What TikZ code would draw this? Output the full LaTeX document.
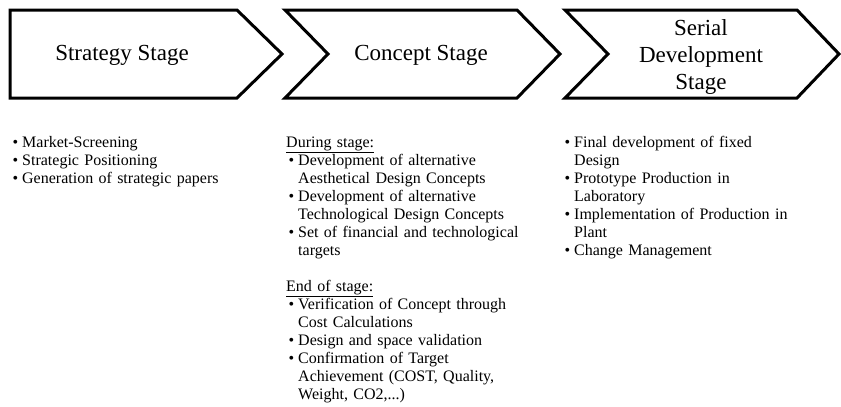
\documentclass[tikz,border=0pt]{standalone}
\usepackage{fontspec}
\setmainfont{Liberation Serif}
\newcommand{\bul}{\leavevmode\llap{\textbullet\hspace{4pt}}}
\begin{document}
\begin{tikzpicture}[x=1pt,y=-1pt,
  chev/.style={draw=black,line width=3pt,line join=miter,fill=white},
  title/.style={font=\fontsize{23}{27}\selectfont,align=center,inner sep=0pt},
  col/.style={font=\fontsize{16}{18}\selectfont,anchor=base west,inner sep=0pt,text width=#1,align=left},
]
\useasboundingbox (0,0) rectangle (841,407);
% chevrons
\draw[chev] (10,10) -- (237,10) -- (282,54) -- (237,98) -- (10,98) -- cycle;
\draw[chev] (285,10) -- (517,10) -- (560,54) -- (517,98) -- (285,98) -- (328,54) -- cycle;
\draw[chev] (565,10) -- (797,10) -- (839,54) -- (797,98) -- (565,98) -- (608,54) -- cycle;
% titles
\node[title] (t1) at (122,55) {Strategy Stage};
\node[title] (t2) at (421,55) {Concept Stage};
\node[title] (t3) at (701,57) {Serial\\Development\\Stage};
% column 1
\node[col=250pt] (c1) at (22,147) {%
\bul Market-Screening\\
\bul Strategic Positioning\\
\bul Generation of strategic papers};
% column 2
\node[col=270pt] (c2h) at (286,147) {\underline{During stage:}};
\node[col=260pt] (c2) at (298,165) {%
\bul Development of alternative\\
Aesthetical Design Concepts\\
\bul Development of alternative\\
Technological Design Concepts\\
\bul Set of financial and technological\\
targets};
\node[col=270pt] (c2e) at (286,291) {\underline{End of stage:}};
\node[col=260pt] (c2b) at (298,309) {%
\bul Verification of Concept through\\
Cost Calculations\\
\bul Design and space validation\\
\bul Confirmation of Target\\
Achievement (COST, Quality,\\
Weight, CO2,...)};
% column 3
\node[col=260pt] (c3) at (574,147) {%
\bul Final development of fixed\\
Design\\
\bul Prototype Production in\\
Laboratory\\
\bul Implementation of Production in\\
Plant\\
\bul Change Management};
\end{tikzpicture}
\end{document}
